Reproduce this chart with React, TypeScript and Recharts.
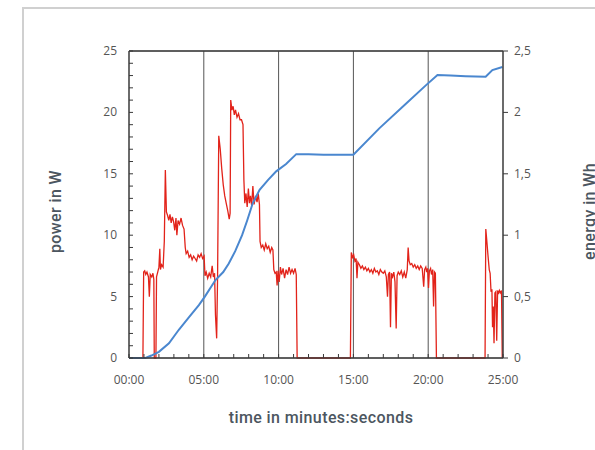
import { LineChart, Line, XAxis, YAxis, CartesianGrid, ReferenceLine, Label } from 'recharts';

// power trace (minutes, W)
const powerMinutes = [
  0, 0.93, 0.98, 1.05, 1.12, 1.2, 1.3, 1.36, 1.42, 1.52, 1.6, 1.66, 1.69, 1.8, 1.84, 1.92, 2.0, 2.06, 2.1, 2.18,
  2.28, 2.36, 2.43, 2.5, 2.58, 2.66, 2.74, 2.82, 2.9, 2.98, 3.06, 3.14, 3.2, 3.28, 3.38, 3.48, 3.58, 3.68, 3.76, 3.82,
  3.92, 4.02, 4.12, 4.22, 4.32, 4.42, 4.52, 4.62, 4.72, 4.82, 4.92, 5.02, 5.08, 5.16, 5.26, 5.36, 5.46, 5.56, 5.64, 5.72,
  5.78, 5.86, 5.92, 6.0, 6.1, 6.2, 6.3, 6.4, 6.5, 6.6, 6.7, 6.76, 6.8, 6.88, 6.96, 7.04, 7.12, 7.22, 7.32, 7.42,
  7.52, 7.62, 7.68, 7.74, 7.82, 7.9, 7.98, 8.05, 8.12, 8.2, 8.28, 8.36, 8.46, 8.56, 8.64, 8.72, 8.76, 8.84, 8.94, 9.04,
  9.14, 9.24, 9.34, 9.44, 9.54, 9.62, 9.68, 9.76, 9.84, 9.9, 9.96, 10.04, 10.12, 10.2, 10.3, 10.4, 10.5, 10.6, 10.7, 10.8,
  10.9, 11.0, 11.1, 11.18, 11.24, 14.8, 14.86, 14.94, 15.02, 15.1, 15.18, 15.24, 15.3, 15.4, 15.5, 15.6, 15.7, 15.8, 15.9, 16.0,
  16.1, 16.2, 16.3, 16.4, 16.5, 16.6, 16.7, 16.8, 16.9, 17.0, 17.1, 17.2, 17.28, 17.34, 17.42, 17.48, 17.54, 17.62, 17.7, 17.78,
  17.86, 17.92, 18.0, 18.1, 18.2, 18.3, 18.4, 18.5, 18.6, 18.66, 18.72, 18.8, 18.9, 19.0, 19.1, 19.2, 19.3, 19.4, 19.5, 19.6,
  19.7, 19.76, 19.84, 19.9, 19.96, 20.02, 20.08, 20.16, 20.22, 20.3, 20.36, 20.42, 20.48, 20.55, 23.8, 23.85, 23.92, 24.0, 24.08, 24.14,
  24.2, 24.26, 24.3, 24.35, 24.4, 24.46, 24.52, 24.58, 24.64, 24.7, 24.76, 24.84, 24.9, 24.95,
];
const powerWatts = [
  0, 0, 7.0, 7.1, 6.8, 7.0, 6.6, 5.0, 6.8, 6.6, 6.9, 6.4, 0, 0, 6.6, 7.0, 7.4, 8.9, 7.2, 7.6,
  7.4, 9.5, 15.3, 11.9, 11.6, 11.2, 11.7, 11.0, 11.5, 11.1, 10.4, 11.4, 10.0, 11.2, 10.9, 11.4, 10.8, 10.5, 9.0, 8.5,
  8.7, 8.2, 8.4, 8.0, 8.3, 8.1, 7.9, 8.4, 8.2, 8.5, 8.1, 8.3, 6.7, 7.0, 6.5, 6.9, 6.6, 7.5, 6.6, 6.9,
  3.5, 1.6, 6.5, 18.1, 17.0, 15.4, 14.1, 13.2, 12.6, 12.0, 11.3, 11.8, 21.0, 20.2, 20.5, 19.8, 20.2, 19.6, 19.9, 19.4,
  19.4, 19.0, 14.5, 12.6, 13.4, 12.3, 13.8, 12.6, 13.2, 12.4, 14.0, 12.5, 13.2, 12.7, 13.4, 12.5, 9.5, 9.0, 9.2, 8.8,
  9.3, 8.9, 9.1, 8.6, 9.0, 8.8, 7.2, 6.9, 7.0, 5.9, 7.1, 6.2, 7.4, 6.8, 7.3, 6.5, 7.2, 6.8, 7.4, 6.9,
  7.2, 6.9, 7.3, 6.8, 0, 0, 8.6, 8.2, 8.4, 7.9, 8.1, 6.5, 7.8, 7.6, 7.3, 7.5, 7.2, 7.4, 7.1, 7.3,
  7.0, 7.2, 6.9, 7.3, 7.0, 7.1, 6.8, 7.2, 7.0, 6.9, 7.1, 6.6, 5.0, 6.8, 7.0, 2.5, 6.9, 6.6, 7.0, 6.2,
  2.4, 6.7, 7.0, 6.8, 7.1, 6.6, 7.0, 6.5, 7.2, 9.0, 7.9, 7.6, 7.7, 7.4, 7.6, 7.3, 7.5, 7.2, 7.5, 7.3,
  5.8, 7.2, 7.4, 7.0, 7.3, 5.7, 7.1, 7.3, 6.8, 7.2, 4.2, 7.0, 6.9, 0, 0, 10.5, 9.5, 8.3, 7.2, 6.9,
  5.4, 5.6, 2.5, 4.2, 1.2, 5.3, 5.4, 1.4, 5.5, 5.2, 5.5, 5.3, 5.5, 0,
];

// cumulative energy (minutes, Wh)
const energyMinutes = [
  0, 1.1, 1.5, 2.0, 2.67, 3.33, 4.0, 4.67, 5.07, 5.78, 6.3, 6.67, 7.1, 7.56, 7.9, 8.27, 8.73, 9.3, 9.84, 10.5,
  11.18, 12.0, 13.0, 14.0, 15.0, 16.73, 18.51, 19.84, 20.62, 21.5, 22.5, 23.84, 24.29, 24.96,
];
const energyWh = [
  0, 0, 0.02, 0.05, 0.12, 0.23, 0.33, 0.43, 0.5, 0.635, 0.7, 0.77, 0.87, 1.0, 1.12, 1.26, 1.37, 1.45, 1.52, 1.58,
  1.66, 1.66, 1.655, 1.655, 1.655, 1.87, 2.07, 2.22, 2.305, 2.3, 2.295, 2.29, 2.345, 2.37,
];

const minuteTicks = [0, 1, 2, 3, 4, 5, 6, 7, 8, 9, 10, 11, 12, 13, 14, 15, 16, 17, 18, 19, 20, 21, 22, 23, 24, 25];
const timeLabels: Record<number, string> = { 0: '00:00', 5: '05:00', 10: '10:00', 15: '15:00', 20: '20:00', 25: '25:00' };
const gridMinutes = [5, 10, 15, 20];
const powerTicks = [0, 1, 2, 3, 4, 5, 6, 7, 8, 9, 10, 11, 12, 13, 14, 15, 16, 17, 18, 19, 20, 21, 22, 23, 24, 25];
const energyTicks = [0, 0.5, 1, 1.5, 2, 2.5];

const powerData = powerMinutes.map((t, i) => ({ t, w: powerWatts[i] }));
const energyData = energyMinutes.map((t, i) => ({ t, wh: energyWh[i] }));

const tickFont = { fontFamily: 'Open Sans', fontSize: 12, fill: '#555' };
const titleFont = { fontFamily: 'Roboto', fontSize: 16, fontWeight: 500, fill: '#4c5660', letterSpacing: 0.4 };
const axisColor = '#3a3a3a';

// eslint-disable-next-line @typescript-eslint/no-explicit-any
const TimeTick = ({ x, y, payload }: any) => {
  const label = timeLabels[payload.value];
  return (
    <g>
      <line x1={x} x2={x} y1={y} y2={y - 4} stroke={axisColor} />
      {label && (
        <text x={x} y={y + 26} textAnchor="middle" {...tickFont}>
          {label}
        </text>
      )}
    </g>
  );
};

// eslint-disable-next-line @typescript-eslint/no-explicit-any
const PowerTick = ({ x, y, payload }: any) => (
  <g>
    <line x1={x} x2={x + 4} y1={y} y2={y} stroke={axisColor} />
    {payload.value % 5 === 0 && (
      <text x={x - 12} y={y + 4} textAnchor="end" {...tickFont}>
        {payload.value}
      </text>
    )}
  </g>
);

// eslint-disable-next-line @typescript-eslint/no-explicit-any
const EnergyTick = ({ x, y, payload }: any) => (
  <g>
    <line x1={x} x2={x + 5} y1={y} y2={y} stroke={axisColor} />
    <text x={x + 11} y={y + 4} textAnchor="start" {...tickFont}>
      {String(payload.value).replace('.', ',')}
    </text>
  </g>
);

// eslint-disable-next-line @typescript-eslint/no-explicit-any
const sideTitle = (text: string, cx: number) => ({ viewBox }: any) => {
  const cy = viewBox.y + viewBox.height / 2 + 7;
  return (
    <text
      x={cx}
      y={cy}
      textAnchor="middle"
      dominantBaseline="central"
      transform={`rotate(-90 ${cx} ${cy})`}
      {...titleFont}
    >
      {text}
    </text>
  );
};

export default function App() {
  return (
    <div style={{ position: 'absolute', left: 0, top: 0, width: 595, height: 450, background: '#fff' }}>
      <div
        style={{
          position: 'absolute',
          left: 22,
          top: 7,
          width: 600,
          height: 460,
          borderLeft: '2px solid #d0d0d0',
          borderTop: '2px solid #d0d0d0',
        }}
      />
      <div style={{ position: 'absolute', left: 0, top: 0 }}>
        <LineChart width={595} height={450} margin={{ top: 51, right: 0, bottom: 0, left: 0 }}>
          <CartesianGrid vertical={false} stroke="#9a9a9a" />
          {gridMinutes.map((m) => (
            <ReferenceLine key={m} x={m} yAxisId="power" stroke="#555" />
          ))}
          <ReferenceLine y={25} yAxisId="power" stroke={axisColor} strokeWidth={1.5} />
          <XAxis
            dataKey="t"
            type="number"
            domain={[0, 25]}
            ticks={minuteTicks}
            interval={0}
            height={92}
            tickSize={0}
            tickMargin={0}
            stroke={axisColor}
            strokeWidth={1.5}
            tick={<TimeTick />}
            label={
              <Label
                content={({ viewBox }: any) => (
                  <text x={viewBox.x + viewBox.width / 2 + 5} y={viewBox.y + 65} textAnchor="middle" {...titleFont}>
                    time in minutes:seconds
                  </text>
                )}
              />
            }
          />
          <YAxis
            yAxisId="power"
            domain={[0, 25]}
            ticks={powerTicks}
            interval={0}
            width={129}
            tickSize={0}
            tickMargin={0}
            stroke={axisColor}
            strokeWidth={1.5}
            tick={<PowerTick />}
            label={<Label content={sideTitle('power in W', 55)} />}
          />
          <YAxis
            yAxisId="energy"
            orientation="right"
            domain={[0, 2.5]}
            ticks={energyTicks}
            interval={0}
            width={92}
            tickSize={0}
            tickMargin={0}
            stroke={axisColor}
            strokeWidth={1.5}
            tick={<EnergyTick />}
            label={<Label content={sideTitle('energy in Wh', 589)} />}
          />
          <Line
            yAxisId="power"
            data={powerData}
            dataKey="w"
            type="linear"
            stroke="#e2231a"
            strokeWidth={1.3}
            dot={false}
            isAnimationActive={false}
          />
          <Line
            yAxisId="energy"
            data={energyData}
            dataKey="wh"
            type="linear"
            stroke="#4a87cf"
            strokeWidth={2}
            dot={false}
            isAnimationActive={false}
          />
        </LineChart>
      </div>
    </div>
  );
}
